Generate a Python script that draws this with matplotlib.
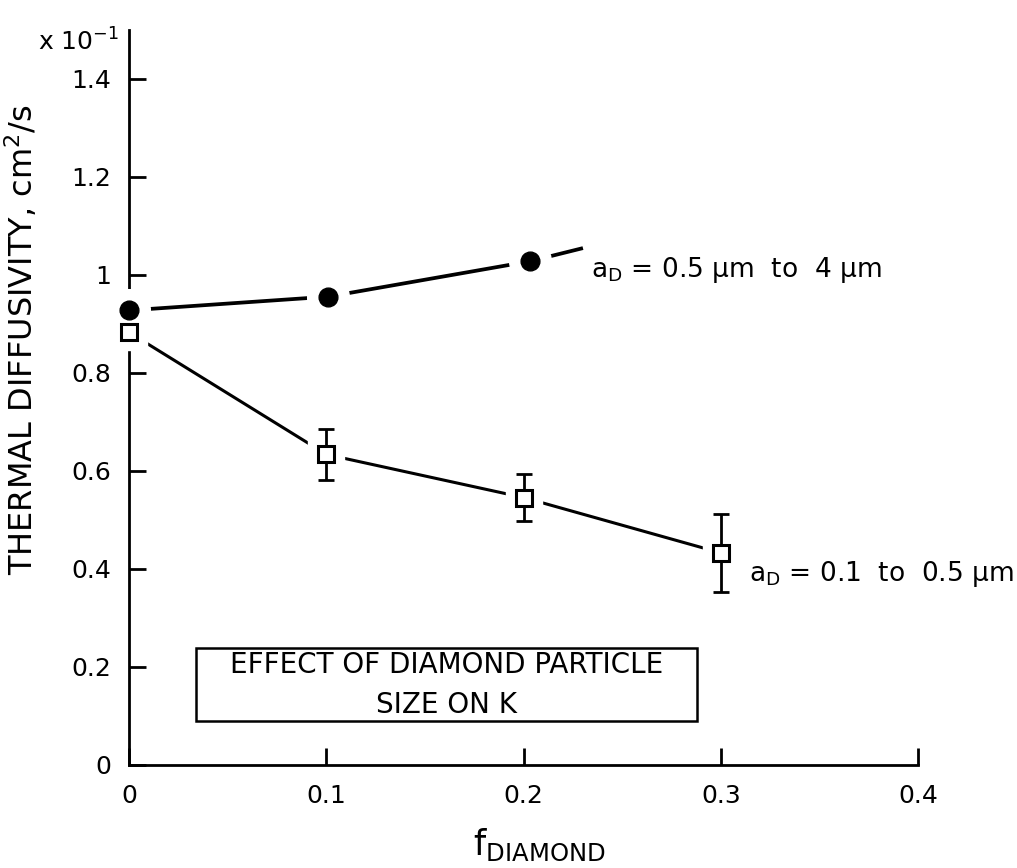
import numpy as np
import matplotlib
matplotlib.use('Agg')
import matplotlib.pyplot as plt
from matplotlib.patches import Rectangle

# data (thermal diffusivity x 10^-1 cm^2/s)
f_large = [0.0, 0.101, 0.203]
k_large = [0.927, 0.955, 1.027]
# end of the drawn trend line past the last point
f_large_line = [0.0, 0.101, 0.203, 0.230]
k_large_line = [0.927, 0.955, 1.027, 1.054]

f_small = [0.0, 0.1, 0.2, 0.3]
k_small = [0.882, 0.633, 0.545, 0.432]
k_small_err = [0.0, 0.052, 0.048, 0.080]

xticks = [0, 0.1, 0.2, 0.3, 0.4]
xtick_labels = ['0', '0.1', '0.2', '0.3', '0.4']
yticks = [0, 0.2, 0.4, 0.6, 0.8, 1.0, 1.2, 1.4]
ytick_labels = ['0', '0.2', '0.4', '0.6', '0.8', '1', '1.2', '1.4']

plt.rcParams['font.family'] = ['DejaVu Sans']
plt.rcParams['mathtext.default'] = 'regular'

fig = plt.figure(figsize=(10.17, 8.68), dpi=100)
ax = fig.add_axes([0.127, 0.119, 0.776, 0.847])

# trend lines
ax.plot(f_large_line, k_large_line, color='black', lw=2.7, zorder=2, solid_capstyle='butt')
ax.plot(f_small, k_small, color='black', lw=2.2, zorder=2, solid_capstyle='butt')

# white halos so the lines stop short of the symbols
ax.plot(f_large, k_large, 'o', ms=30, color='white', zorder=3, clip_on=False)
ax.plot(f_small, k_small, 's', ms=26, color='white', zorder=3, clip_on=False)

# symbols
ax.plot(f_large, k_large, 'o', ms=13.5, color='black', zorder=4, clip_on=False)
ax.errorbar(f_small[1:], k_small[1:], yerr=k_small_err[1:], fmt='none', ecolor='black',
            elinewidth=2, capsize=6, capthick=2, zorder=4)
ax.plot(f_small, k_small, 's', ms=11.5, mfc='white', mec='black', mew=2.2, zorder=5, clip_on=False)

ax.set_xlim(0, 0.4)
ax.set_ylim(0, 1.5)
ax.spines['top'].set_visible(False)
ax.spines['right'].set_visible(False)
ax.spines['left'].set_linewidth(2)
ax.spines['bottom'].set_linewidth(2)

ax.set_xticks(xticks)
ax.set_xticklabels(xtick_labels)
ax.set_yticks(yticks)
ax.set_yticklabels(ytick_labels)
ax.tick_params(direction='in', length=12, width=2, labelsize=18)
ax.tick_params(axis='x', pad=14)
ax.tick_params(axis='y', pad=13)

ax.set_ylabel('THERMAL DIFFUSIVITY, cm$^2$/s', fontsize=23)
ax.yaxis.set_label_coords(-0.113, 0.578)
ax.set_xlabel('f$_{DIAMOND}$', fontsize=25, labelpad=8)
ax.xaxis.set_label_coords(0.52, -0.085)

ax.text(-0.005, 1.475, r'x 10$^{-1}$', fontsize=18, ha='right', va='center')

ax.text(0.234, 1.01, 'a$_D$ = 0.5 μm  to  4 μm', fontsize=19, va='center')
ax.text(0.314, 0.39, 'a$_D$ = 0.1  to  0.5 μm', fontsize=19, va='center')

# caption box
ax.add_patch(Rectangle((0.034, 0.09), 0.254, 0.149, fill=False, ec='black', lw=1.8))
ax.text(0.161, 0.163, 'EFFECT OF DIAMOND PARTICLE\nSIZE ON K', fontsize=20, ha='center',
        va='center', linespacing=1.55)

fig.savefig('out.png', dpi=100)
